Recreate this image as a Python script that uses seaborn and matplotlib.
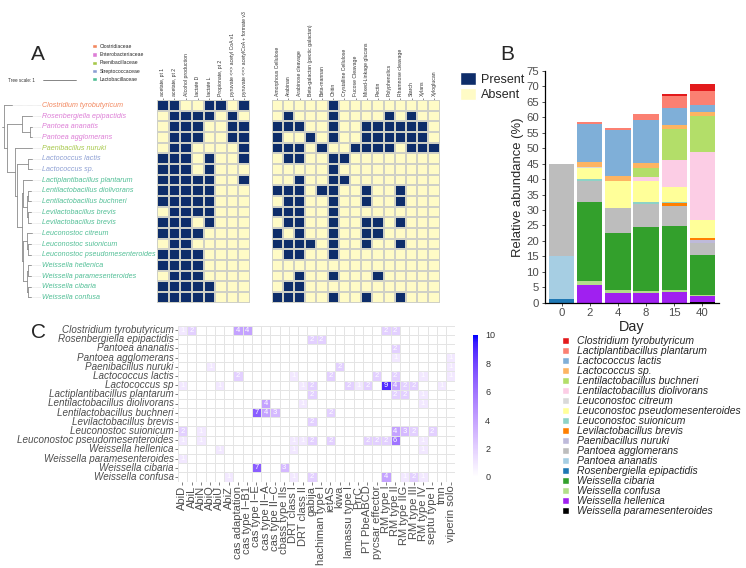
import matplotlib
matplotlib.use("Agg")
import matplotlib.pyplot as plt
from matplotlib.colors import ListedColormap, LinearSegmentedColormap
from matplotlib.patches import Patch
import numpy as np
import pandas as pd
import seaborn as sns

# ---------------- panel A : genomes ----------------
species_a = ["Clostridium tyrobutyricum", "Rosenbergiella epipactidis", "Pantoea ananatis",
             "Pantoea agglomerans", "Paenibacillus nuruki", "Lactococcus lactis", "Lactococcus sp.",
             "Lactiplantibacillus plantarum", "Lentilactobacillus diolivorans",
             "Lentilactobacillus buchneri", "Levilactobacillus brevis", "Levilactobacillus brevis",
             "Leuconostoc citreum", "Leuconostoc suionicum", "Leuconostoc pseudomesenteroides",
             "Weissella hellenica", "Weissella paramesenteroides", "Weissella cibaria",
             "Weissella confusa"]
family_a = ["Clostridiaceae"] + ["Enterobacteriaceae"] * 3 + ["Paenibacillaceae"] + \
           ["Streptococcaceae"] * 2 + ["Lactobacillaceae"] * 12
family_names = ["Clostridiaceae", "Enterobacteriaceae", "Paenibacillaceae",
                "Streptococcaceae", "Lactobacillaceae"]
family_colors = ["#F2875E", "#DD7ED6", "#A6C84A", "#8C9ED3", "#50BE95"]

pathway_names = ["acetate, pt 1", "acetate, pt 2", "Alcohol production", "lactate D",
                 "lactate L", "Propionate, pt 2", "pyruvate <=> acetyl CoA v1",
                 "pyruvate <=> acetylCoA + formate v3"]
pathway_presence = [
    [1, 1, 0, 0, 1, 1, 0, 1],
    [0, 1, 1, 1, 1, 0, 1, 0],
    [0, 1, 1, 1, 0, 0, 1, 1],
    [0, 1, 1, 1, 0, 0, 1, 1],
    [0, 1, 1, 0, 0, 0, 0, 1],
    [1, 1, 1, 0, 1, 0, 0, 1],
    [1, 1, 1, 0, 1, 0, 0, 0],
    [1, 1, 1, 1, 1, 0, 0, 1],
    [1, 1, 1, 1, 1, 0, 0, 0],
    [1, 1, 1, 1, 1, 0, 0, 0],
    [0, 1, 1, 1, 1, 0, 0, 0],
    [1, 1, 1, 0, 1, 0, 0, 0],
    [1, 1, 1, 1, 0, 0, 0, 0],
    [0, 1, 1, 0, 0, 0, 0, 0],
    [1, 1, 1, 1, 0, 0, 0, 0],
    [1, 1, 1, 1, 0, 0, 0, 0],
    [0, 1, 1, 1, 0, 0, 0, 0],
    [1, 1, 1, 1, 1, 0, 0, 0],
    [1, 1, 1, 1, 1, 0, 0, 0],
]
cazy_names = ["Amorphous Cellulose", "Arabinan", "Arabinose cleavage",
              "Beta-galactan (pectic galactan)", "Beta-mannan", "Chitin", "Crystalline Cellulose",
              "Fucose Cleavage", "Mixed-Linkage glucans", "Pectin", "Polyphenolics",
              "Rhamnose cleavage", "Starch", "Xylans", "Xyloglucan"]
cazy_presence = [
    [0, 0, 0, 0, 0, 1, 0, 0, 0, 0, 0, 0, 0, 0, 0],
    [0, 1, 0, 0, 0, 1, 0, 0, 0, 0, 1, 0, 1, 0, 0],
    [1, 1, 1, 0, 0, 1, 0, 0, 1, 1, 1, 1, 1, 1, 0],
    [1, 0, 0, 1, 0, 1, 0, 0, 1, 1, 1, 1, 1, 1, 0],
    [1, 1, 1, 0, 1, 0, 0, 1, 1, 1, 1, 0, 1, 1, 1],
    [0, 1, 1, 0, 0, 1, 1, 0, 0, 0, 0, 0, 0, 0, 0],
    [0, 0, 0, 0, 0, 1, 0, 0, 0, 0, 0, 0, 0, 0, 0],
    [0, 0, 1, 0, 0, 1, 1, 0, 0, 0, 0, 0, 0, 0, 0],
    [1, 1, 1, 0, 1, 1, 0, 0, 1, 0, 0, 1, 0, 0, 0],
    [0, 1, 1, 0, 0, 1, 0, 0, 1, 0, 0, 1, 0, 0, 0],
    [1, 1, 1, 0, 0, 1, 0, 0, 0, 0, 0, 0, 0, 0, 0],
    [0, 1, 1, 0, 0, 1, 0, 0, 1, 1, 0, 1, 0, 0, 0],
    [1, 0, 1, 0, 0, 1, 0, 0, 1, 1, 0, 0, 0, 0, 0],
    [1, 1, 1, 1, 0, 1, 0, 0, 1, 0, 0, 1, 0, 0, 0],
    [0, 1, 1, 0, 0, 1, 0, 0, 0, 0, 0, 0, 0, 0, 0],
    [0, 0, 0, 0, 0, 0, 0, 0, 0, 0, 0, 0, 0, 0, 0],
    [0, 0, 1, 0, 0, 1, 0, 0, 0, 1, 0, 0, 0, 0, 0],
    [0, 1, 1, 0, 0, 0, 0, 0, 0, 0, 0, 0, 0, 0, 0],
    [1, 1, 1, 0, 0, 1, 0, 0, 1, 0, 0, 1, 0, 0, 0],
]

# tree: (tip name or list of children, branch length); tips in the same order as species_a
tree_a = ([
    ("Clostridium tyrobutyricum", 0.25),
    ([
        ([("Rosenbergiella epipactidis", 0.3),
          ([("Pantoea ananatis", 0.05), ("Pantoea agglomerans", 0.05)], 0.25)], 0.45),
        ([("Paenibacillus nuruki", 0.5),
          ([([("Lactococcus lactis", 0.1), ("Lactococcus sp.", 0.1)], 0.35),
            ([([("Lactiplantibacillus plantarum", 0.25),
                ([([("Lentilactobacillus diolivorans", 0.08), ("Lentilactobacillus buchneri", 0.08)], 0.05),
                  ([("Levilactobacillus brevis", 0.08), ("Levilactobacillus brevis", 0.08)], 0.05)], 0.1)], 0.05),
              ([([("Leuconostoc citreum", 0.15),
                  ([("Leuconostoc suionicum", 0.08), ("Leuconostoc pseudomesenteroides", 0.08)], 0.05)], 0.1),
                ([([("Weissella hellenica", 0.08), ("Weissella paramesenteroides", 0.08)], 0.05),
                  ([("Weissella cibaria", 0.08), ("Weissella confusa", 0.08)], 0.05)], 0.1)], 0.05)], 0.15)], 0.05)],
         0.25),
    ], 0.1),
], 0.05)

# ---------------- panel B : community ----------------
days = ["0", "2", "4", "8", "15", "40"]
taxa_b = ["Clostridium tyrobutyricum", "Lactiplantibacillus plantarum", "Lactococcus lactis",
          "Lactococcus sp.", "Lentilactobacillus buchneri", "Lentilactobacillus diolivorans",
          "Leuconostoc citreum", "Leuconostoc pseudomesenteroides", "Leuconostoc suionicum",
          "Levilactobacillus brevis", "Paenibacillus nuruki", "Pantoea agglomerans",
          "Pantoea ananatis", "Rosenbergiella epipactidis", "Weissella cibaria",
          "Weissella confusa", "Weissella hellenica", "Weissella paramesenteroides"]
taxa_colors = ["#E31A1C", "#FB8072", "#7FAFD8", "#FDB462", "#B3DE69", "#FCCDE5", "#D9D9D9",
               "#FFFF99", "#8DD3C7", "#FF7F00", "#BEBADA", "#BDBDBD", "#A6CEE3", "#1F78B4",
               "#33A02C", "#B2DF8A", "#A020F0", "#000000"]
abundance_b = [
    [0, 0, 0, 0, 0.8, 2.4],
    [0, 0.5, 0.4, 1.9, 3.8, 4.5],
    [0, 12.3, 14.9, 13.9, 5.3, 2.2],
    [0, 1.65, 1.8, 1.8, 1.4, 1.4],
    [0, 0, 0, 2.7, 10.0, 11.5],
    [0, 0, 0, 1.6, 8.9, 21.9],
    [0, 0.3, 0, 0, 0, 0],
    [0, 3.75, 8.8, 6.65, 4.85, 6.1],
    [0, 0.5, 0, 0.5, 0.35, 0],
    [0, 0, 0, 0.3, 1.0, 0.6],
    [0, 0, 0, 0, 0, 1.0],
    [30.0, 6.8, 8.1, 7.2, 6.45, 3.9],
    [13.8, 0, 0, 0, 0, 0],
    [1.2, 0, 0, 0, 0, 0],
    [0, 25.55, 18.2, 20.8, 20.5, 12.9],
    [0, 1.5, 1.2, 0.8, 0.6, 0.2],
    [0, 5.6, 3.0, 3.0, 3.6, 2.0],
    [0, 0, 0, 0, 0, 0.2],
]

# ---------------- panel C : defence systems ----------------
species_c = ["Clostridium tyrobutyricum", "Rosenbergiella epipactidis", "Pantoea ananatis",
             "Pantoea agglomerans", "Paenibacillus nuruki", "Lactococcus lactis", "Lactococcus sp",
             "Lactiplantibacillus plantarum", "Lentilactobacillus diolivorans",
             "Lentilactobacillus buchneri", "Levilactobacillus brevis", "Leuconostoc suionicum",
             "Leuconostoc pseudomesenteroides", "Weissella hellenica",
             "Weissella paramesenteroides", "Weissella cibaria", "Weissella confusa"]
defense_systems = ["AbiD", "AbiL", "AbiN", "AbiQ", "AbiU", "AbiZ", "cas adaptation",
                   "cas type I\u2212B1", "cas type I\u2212E", "cas type II\u2212A",
                   "cas type II\u2212C", "cbass type IIs", "DRT class I", "DRT class II", "gabija",
                   "hachiman type I", "ietAS", "kiwa", "lamassu type I", "PrrC", "PT PbeABCD",
                   "pycsar effector", "RM type I", "RM type II", "RM type IIG", "RM type III",
                   "RM type IV", "septu type I", "tmn", "viperin solo"]
defense_counts = [
    [1, 2, 0, 0, 0, 0, 4, 4, 0, 0, 0, 0, 0, 0, 0, 0, 0, 0, 0, 0, 0, 0, 2, 2, 0, 0, 0, 0, 0, 0],
    [0, 0, 0, 0, 0, 0, 0, 0, 0, 0, 0, 0, 0, 0, 2, 2, 0, 0, 0, 0, 0, 0, 0, 0, 0, 0, 0, 0, 0, 0],
    [0, 0, 0, 0, 0, 0, 0, 0, 0, 0, 0, 0, 0, 0, 0, 0, 0, 0, 0, 0, 0, 0, 0, 2, 0, 0, 0, 0, 0, 0],
    [0, 0, 0, 0, 0, 0, 0, 0, 0, 0, 0, 0, 0, 0, 0, 0, 0, 0, 0, 0, 0, 0, 0, 1, 0, 0, 0, 0, 0, 1],
    [0, 0, 0, 1, 0, 0, 0, 0, 0, 0, 0, 0, 0, 0, 0, 0, 0, 2, 0, 0, 0, 0, 0, 0, 0, 0, 0, 0, 0, 1],
    [0, 0, 0, 0, 0, 0, 2, 0, 0, 0, 0, 0, 1, 0, 0, 0, 2, 0, 0, 0, 0, 2, 0, 2, 0, 0, 1, 0, 0, 1],
    [1, 0, 0, 0, 1, 0, 0, 0, 0, 0, 0, 0, 0, 1, 2, 0, 0, 0, 2, 1, 2, 0, 9, 4, 2, 2, 0, 0, 1, 0],
    [0, 0, 0, 0, 0, 0, 0, 0, 0, 0, 0, 0, 0, 0, 2, 0, 0, 0, 0, 0, 0, 0, 0, 2, 2, 0, 1, 0, 0, 0],
    [0, 0, 0, 0, 0, 0, 0, 0, 0, 4, 0, 0, 0, 1, 0, 0, 0, 0, 0, 0, 0, 0, 0, 0, 0, 0, 1, 0, 0, 0],
    [0, 0, 0, 0, 0, 0, 0, 0, 7, 4, 3, 0, 0, 0, 0, 0, 2, 0, 0, 0, 0, 0, 0, 0, 0, 0, 0, 0, 0, 0],
    [0, 0, 0, 0, 0, 0, 0, 0, 0, 0, 0, 0, 0, 0, 2, 0, 0, 0, 0, 0, 0, 0, 0, 0, 0, 0, 0, 0, 0, 0],
    [2, 0, 1, 0, 0, 0, 0, 0, 0, 0, 0, 0, 0, 0, 0, 0, 0, 0, 0, 0, 0, 0, 0, 4, 3, 2, 0, 2, 0, 0],
    [1, 0, 1, 0, 0, 0, 0, 0, 0, 0, 0, 0, 1, 1, 2, 0, 2, 0, 0, 0, 2, 2, 2, 6, 0, 0, 1, 0, 0, 0],
    [0, 0, 0, 0, 1, 0, 0, 0, 0, 0, 0, 0, 1, 0, 0, 0, 0, 0, 0, 0, 0, 0, 0, 0, 0, 0, 1, 0, 0, 0],
    [1, 0, 0, 0, 0, 0, 0, 0, 0, 0, 0, 0, 0, 0, 0, 0, 0, 0, 0, 0, 0, 0, 0, 0, 0, 0, 0, 0, 0, 0],
    [0, 0, 0, 0, 0, 0, 0, 0, 7, 0, 0, 3, 0, 0, 0, 0, 0, 0, 0, 0, 0, 0, 0, 0, 0, 0, 0, 0, 0, 0],
    [0, 0, 0, 0, 0, 1, 0, 0, 0, 0, 0, 0, 1, 0, 2, 0, 0, 0, 0, 0, 0, 0, 4, 0, 1, 2, 1, 0, 0, 0],
]

sns.set_style("white")
plt.rcParams["font.family"] = ["Liberation Sans", "DejaVu Sans"]

W, H = 746, 568
fig = plt.figure(figsize=(W / 100, H / 100), dpi=100)


def box(x0, y0, x1, y1):
    # pixel box (top-left origin) -> figure fraction
    return [x0 / W, 1 - y1 / H, (x1 - x0) / W, (y1 - y0) / H]


# ---------- A ----------
fam_col = dict(zip(family_names, family_colors))
pa_cmap = ListedColormap(["#FFFBC6", "#0E2D6A"])

ax_a1 = fig.add_axes(box(157, 100, 250, 302.7))
ax_a2 = fig.add_axes(box(271.7, 100, 439.5, 302.7))
for ax, vals, names in [(ax_a1, pathway_presence, pathway_names), (ax_a2, cazy_presence, cazy_names)]:
    sns.heatmap(pd.DataFrame(vals, columns=names), ax=ax, cmap=pa_cmap, vmin=0, vmax=1,
                cbar=False, linewidths=0.35, linecolor="#cfd0c6", xticklabels=True, yticklabels=False)
    ax.xaxis.tick_top()
    ax.set_xticklabels(names, rotation=90, fontsize=3.7, color="#333333", ha="center", va="bottom")
    ax.tick_params(axis="x", top=True, bottom=False, length=1.5, width=0.4, pad=1.5, color="#333333")
    ax.tick_params(axis="y", left=False)

ax_t = fig.add_axes(box(2, 100, 157, 302.7))
unit = 33.0
ax_t.set_xlim(0, 155 / unit)
ax_t.set_ylim(len(species_a), 0)
ax_t.axis("off")
label_x = 40 / unit
tree_col = "#8a8a8a"
counter = [0]


def draw(node, x0):
    item, length = node
    x1 = x0 + length
    if isinstance(item, str):
        y = counter[0] + 0.5
        counter[0] += 1
        ax_t.plot([x1, label_x - 0.03], [y, y], color="#cccccc", lw=0.4, ls=(0, (1, 1)))
    else:
        ys = [draw(ch, x1) for ch in item]
        y = (ys[0] + ys[-1]) / 2
        ax_t.plot([x1, x1], [ys[0], ys[-1]], color=tree_col, lw=0.6)
    ax_t.plot([x0, x1], [y, y], color=tree_col, lw=0.6)
    return y


draw(tree_a, 0.0)
for i, (name, fam) in enumerate(zip(species_a, family_a)):
    ax_t.text(label_x, i + 0.5, name, fontsize=5.1, style="italic", color=fam_col[fam], va="center")

yscale = -20 / 10.67
ax_t.plot([(43 - 2) / unit, (76 - 2) / unit], [yscale, yscale], color="#555555", lw=0.5, clip_on=False)
ax_t.text((8 - 2) / unit, yscale, "Tree scale: 1", fontsize=3.3, va="center", color="#333333")

fig.legend([Patch(facecolor=c) for c in family_colors], family_names, loc="upper left",
           bbox_to_anchor=(92 / W, 1 - 44 / H), frameon=False, fontsize=3.6, handlelength=0.9,
           handleheight=0.9, labelspacing=0.65, handletextpad=0.6, borderpad=0, borderaxespad=0)
fig.legend([Patch(facecolor="#0E2D6A"), Patch(facecolor="#FFFBC6")], ["Present", "Absent"],
           loc="upper left", bbox_to_anchor=(460 / W, 1 - 72 / H), frameon=False, fontsize=9,
           handlelength=1.3, handleheight=1.2, labelspacing=0.15, handletextpad=0.35,
           borderpad=0, borderaxespad=0)

# ---------- B ----------
ax_b = fig.add_axes(box(544.6, 71, 719.4, 302.7))
stack = np.cumsum(np.array(abundance_b)[::-1], axis=0)[::-1]
for k in range(len(taxa_b)):
    sns.barplot(x=days, y=stack[k], order=days, color=taxa_colors[k], saturation=1, width=0.9,
                errorbar=None, linewidth=0, ax=ax_b)
ax_b.set_xlim(-0.6, 5.6)
ax_b.set_ylim(0, 75)
ax_b.set_yticks(range(0, 80, 5))
for s in ["top", "right"]:
    ax_b.spines[s].set_visible(False)
for s in ["left", "bottom"]:
    ax_b.spines[s].set_color("black")
    ax_b.spines[s].set_linewidth(0.9)
ax_b.tick_params(axis="both", labelsize=8.2, labelcolor="#4D4D4D", length=2.5, width=0.6,
                 color="#333333", left=True, bottom=True, pad=1.5)
ax_b.set_xlabel("Day", fontsize=10.4, labelpad=1)
ax_b.set_ylabel("Relative abundance (%)", fontsize=9.4, labelpad=2)

fig.legend([Patch(facecolor=c) for c in taxa_colors], taxa_b, loc="upper left",
           bbox_to_anchor=(562 / W, 1 - 336 / H), frameon=False,
           prop={"style": "italic", "size": 7.5}, handlelength=0.65, handleheight=0.65,
           handletextpad=0.8, labelspacing=0.0, borderpad=0, borderaxespad=0)

# ---------- C ----------
def lab_to_rgb(L, a, b):
    fy = (L + 16) / 116
    fx, fz = fy + a / 500, fy - b / 200
    inv = lambda t: t ** 3 if t ** 3 > 0.008856 else (t - 16 / 116) / 7.787
    X, Y, Z = 0.95047 * inv(fx), inv(fy), 1.08883 * inv(fz)
    rgb = [3.2406 * X - 1.5372 * Y - 0.4986 * Z,
           -0.9689 * X + 1.8758 * Y + 0.0415 * Z,
           0.0557 * X - 0.2040 * Y + 1.0570 * Z]
    out = []
    for c in rgb:
        c = 1.055 * c ** (1 / 2.4) - 0.055 if c > 0.0031308 else 12.92 * c
        out.append(min(max(c, 0), 1))
    return out


lab_lo, lab_hi = np.array([100.0, 0.0, 0.0]), np.array([32.3, 79.19, -107.86])
c_cmap = LinearSegmentedColormap.from_list(
    "white_blue", [lab_to_rgb(*(lab_lo + t * (lab_hi - lab_lo))) for t in np.linspace(0, 1, 21)])

ax_c = fig.add_axes(box(177.8, 325.5, 455.3, 481.5))
cax = fig.add_axes(box(472.7, 335, 478.3, 477))
counts = np.array(defense_counts)
annot = np.where(counts > 0, counts.astype(str), "")
sns.heatmap(pd.DataFrame(counts, index=species_c, columns=defense_systems), ax=ax_c, cbar_ax=cax,
            cmap=c_cmap, vmin=0, vmax=10, annot=annot, fmt="",
            annot_kws={"color": "white", "fontsize": 5.5}, linewidths=0.5, linecolor="#e4e4e4",
            xticklabels=True, yticklabels=True)
ax_c.set_yticklabels(species_c, rotation=0, fontsize=7.1, style="italic", color="#4D4D4D")
ax_c.set_xticklabels(defense_systems, rotation=90, fontsize=8, color="#4D4D4D")
ax_c.tick_params(axis="both", length=2, width=0.5, color="#4D4D4D", pad=1, left=True, bottom=True)
cbar = ax_c.collections[0].colorbar
cbar.outline.set_visible(False)
cbar.set_ticks([0, 2, 4, 6, 8, 10])
cax.tick_params(length=0, labelsize=6.5, labelcolor="#333333", pad=5)

fig.text(38 / W, 1 - 55 / H, "A", fontsize=15, ha="center", va="center")
fig.text(507 / W, 1 - 55 / H, "B", fontsize=15, ha="center", va="center")
fig.text(38 / W, 1 - 333 / H, "C", fontsize=15, ha="center", va="center")

fig.savefig("out.png", dpi=100)
